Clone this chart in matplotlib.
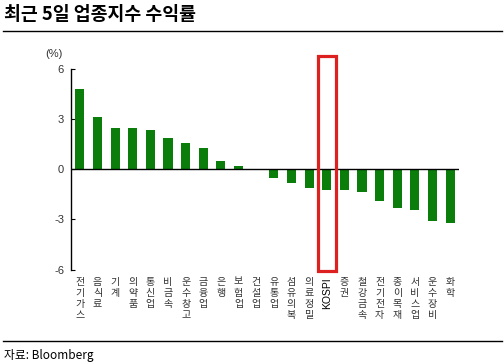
import matplotlib
matplotlib.use("Agg")
import matplotlib.pyplot as plt
from matplotlib.patches import Rectangle
from matplotlib.lines import Line2D

plt.rcParams['font.family'] = ['Noto Sans CJK KR', 'DejaVu Sans']

# data
sectors = ['전기가스', '음식료', '기계', '의약품', '통신업', '비금속', '운수창고', '금융업',
           '은행', '보험업', '건설업', '유통업', '섬유의복', '의료정밀', 'KOSPI', '증권',
           '철강금속', '전기전자', '종이목재', '서비스업', '운수장비', '화학']
returns = [4.82, 3.10, 2.44, 2.44, 2.32, 1.90, 1.55, 1.25,
           0.48, 0.18, 0.0, -0.55, -0.82, -1.10, -1.23, -1.23,
           -1.35, -1.89, -2.30, -2.42, -3.08, -3.20]
yticks = [6, 3, 0, -3, -6]
highlight = 'KOSPI'

green = '#0A7D0A'
red = '#DD2020'
text_col = '#333333'

fig = plt.figure(figsize=(5.04, 3.64), dpi=100)
W, H = 504, 364
ax = fig.add_axes([71 / W, 1 - 269.5 / H, 388 / W, 200.5 / H])

x = list(range(len(sectors)))
ax.bar(x, returns, width=0.52, color=green, zorder=2)
ax.axhline(0, color='black', lw=1.0, zorder=3)

ax.set_xlim(-0.5, len(sectors) - 0.5)
ax.set_ylim(-6, 6)
ax.set_yticks(yticks)
ax.set_yticklabels([str(t) for t in yticks], family='Liberation Sans', fontsize=8, color=text_col)
ax.tick_params(axis='y', direction='in', length=3, width=0.8, pad=5)
ax.set_xticks([])
for s in ['top', 'right', 'bottom']:
    ax.spines[s].set_visible(False)
ax.spines['left'].set_linewidth(1.0)

# category labels: Korean stacked vertically, KOSPI rotated
tr = ax.get_xaxis_transform()
for i, name in enumerate(sectors):
    if name == highlight:
        ax.text(i, -0.04, name, transform=tr, rotation=90, ha='center', va='top',
                fontsize=7.5, family='Liberation Sans', color='black')
    else:
        ax.text(i, -0.035, '\n'.join(name), transform=tr, ha='center', va='top',
                fontsize=7.2, color=text_col, linespacing=1.16)

# red highlight box around KOSPI
k = sectors.index(highlight)
ax.add_patch(Rectangle((k - 0.47, -6.06), 0.99, 12.84, fill=False, edgecolor=red,
                       lw=2.3, clip_on=False, zorder=4))

ax.text(-1.45, 6.9, '(%)', ha='center', va='center', fontsize=8,
        family='Liberation Sans', color=text_col)

# title, rules and source
fig.text(4 / W, 1 - 15 / H, '최근 5일 업종지수 수익률', fontsize=13.2, fontweight='bold',
         va='center', ha='left')
fig.add_artist(Line2D([3 / W, 502 / W], [1 - 31 / H, 1 - 31 / H], color='black', lw=1.0))
fig.add_artist(Line2D([3 / W, 502 / W], [1 - 341 / H, 1 - 341 / H], color='black', lw=1.0))
fig.text(4 / W, 1 - 355 / H, '자료: Bloomberg', fontsize=8.5, va='center', ha='left')

fig.savefig('out.png', dpi=100)
